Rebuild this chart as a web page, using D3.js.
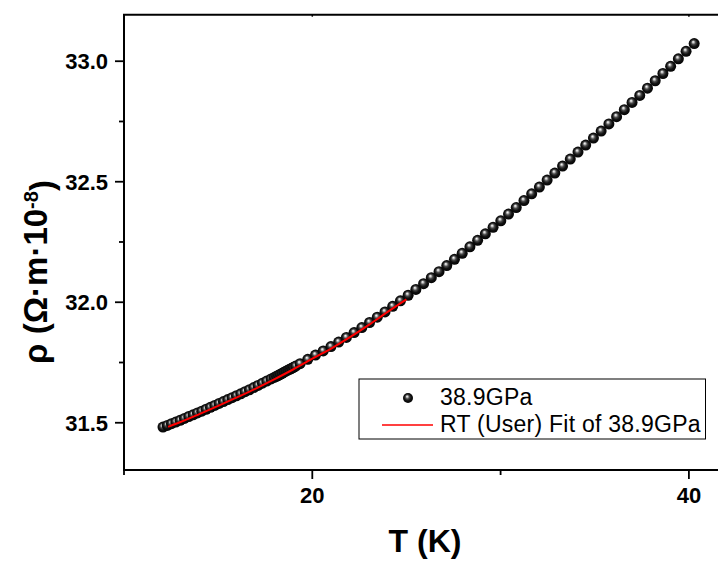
<!DOCTYPE html>
<html>
<head>
<meta charset="utf-8">
<script src="https://cdn.jsdelivr.net/npm/d3@7"></script>
<style>
  body { margin: 0; background: #fff; }
  svg text { font-family: Arial, "Liberation Sans", sans-serif; }
</style>
</head>
<body>
<div id="chart"></div>
<script>
var temps = [12.07, 12.30, 12.52, 12.75, 12.98, 13.21, 13.44, 13.67, 13.90, 14.13,
  14.36, 14.59, 14.82, 15.05, 15.28, 15.51, 15.74, 15.97, 16.20, 16.43,
  16.66, 16.89, 17.12, 17.35, 17.58, 17.81, 17.98, 18.10, 18.20, 18.30,
  18.40, 18.50, 18.60, 18.70, 18.80, 18.90, 19.00, 19.12, 19.35, 19.76,
  20.17, 20.58, 20.99, 21.40, 21.81, 22.22, 22.63, 23.04, 23.45, 23.86,
  24.27, 24.68, 25.09, 25.50, 25.91, 26.32, 26.73, 27.14, 27.55, 27.96,
  28.37, 28.78, 29.19, 29.60, 30.01, 30.42, 30.83, 31.24, 31.65, 32.06,
  32.47, 32.88, 33.29, 33.70, 34.11, 34.52, 34.93, 35.34, 35.75, 36.16,
  36.57, 36.98, 37.39, 37.80, 38.21, 38.62, 39.03, 39.44, 39.85, 40.28];

var rho = [31.482, 31.489, 31.496, 31.503, 31.510, 31.518, 31.526, 31.533, 31.541, 31.548,
  31.556, 31.564, 31.572, 31.580, 31.588, 31.596, 31.604, 31.612, 31.620, 31.629,
  31.637, 31.646, 31.655, 31.664, 31.673, 31.682, 31.688, 31.693, 31.697, 31.701,
  31.705, 31.710, 31.714, 31.718, 31.722, 31.726, 31.730, 31.735, 31.745, 31.763,
  31.781, 31.798, 31.816, 31.835, 31.854, 31.874, 31.895, 31.916, 31.938, 31.960,
  31.983, 32.006, 32.029, 32.053, 32.077, 32.102, 32.127, 32.152, 32.178, 32.203,
  32.230, 32.257, 32.284, 32.311, 32.338, 32.366, 32.393, 32.422, 32.450, 32.478,
  32.507, 32.536, 32.565, 32.594, 32.623, 32.652, 32.681, 32.710, 32.740, 32.770,
  32.799, 32.829, 32.858, 32.888, 32.919, 32.949, 32.979, 33.010, 33.041, 33.073];

// RT (User) fit curve
var fitT = [12.34, 13.0, 14.0, 15.0, 16.0, 17.0, 18.0, 19.0, 20.0, 21.0, 22.0, 23.0, 24.0, 25.0];
var fitRho = [31.483, 31.503, 31.536, 31.570, 31.605, 31.642, 31.681, 31.722, 31.766, 31.808,
  31.855, 31.906, 31.960, 32.012];

var xMajor = [20, 40];
var xMinor = [10, 30];
var yMajor = [31.5, 32.0, 32.5, 33.0];
var yMinor = [31.75, 32.25, 32.75];

var seriesName = "38.9GPa";
var fitName = "RT (User) Fit of 38.9GPa";

var svgWidth = 718, svgHeight = 561;
var margin = {top: 14.7, left: 124, bottom: 91};   // plot runs off the right edge

var svg = d3.select("#chart").append("svg")
  .attr("width", svgWidth)
  .attr("height", svgHeight);

var x = d3.scaleLinear().domain([10, 41.6]).range([margin.left, margin.left + 31.6 * 18.83]);
var y = d3.scaleLinear().domain([31.304, 33.193]).range([svgHeight - margin.bottom, margin.top]);

// sphere look for the markers
var defs = svg.append("defs");
var grad = defs.append("radialGradient")
  .attr("id", "ball")
  .attr("cx", "50%").attr("cy", "50%").attr("r", "55%")
  .attr("fx", "40%").attr("fy", "33%");
grad.append("stop").attr("offset", "0%").attr("stop-color", "#ffffff");
grad.append("stop").attr("offset", "14%").attr("stop-color", "#c8c8c8");
grad.append("stop").attr("offset", "36%").attr("stop-color", "#4a4a4a");
grad.append("stop").attr("offset", "62%").attr("stop-color", "#111");
grad.append("stop").attr("offset", "100%").attr("stop-color", "#000");

var axisY0 = y.range()[0];

// bottom axis
var bottomAxis = svg.append("g").attr("transform", `translate(0,${axisY0})`);
bottomAxis.append("line").attr("x1", margin.left).attr("x2", svgWidth)
  .attr("stroke", "#000").attr("stroke-width", 2);
bottomAxis.selectAll(".maj").data(xMajor).enter().append("line")
  .attr("x1", d => x(d)).attr("x2", d => x(d)).attr("y1", 0).attr("y2", 9)
  .attr("stroke", "#000").attr("stroke-width", 1.8);
bottomAxis.selectAll(".min").data(xMinor).enter().append("line")
  .attr("x1", d => x(d)).attr("x2", d => x(d)).attr("y1", 0).attr("y2", 5)
  .attr("stroke", "#000").attr("stroke-width", 1.8);
bottomAxis.selectAll("text").data(xMajor).enter().append("text")
  .attr("x", d => x(d)).attr("y", 33)
  .attr("text-anchor", "middle")
  .attr("font-size", "22px").attr("font-weight", "bold")
  .text(d => d);

// top axis
var topAxis = svg.append("g").attr("transform", `translate(0,${margin.top})`);
topAxis.append("line").attr("x1", margin.left - 1).attr("x2", svgWidth)
  .attr("stroke", "#000").attr("stroke-width", 2);
topAxis.selectAll(".maj").data(xMajor).enter().append("line")
  .attr("x1", d => x(d)).attr("x2", d => x(d)).attr("y1", 0).attr("y2", 2)
  .attr("stroke", "#000").attr("stroke-width", 1.5);

// left axis
var leftAxis = svg.append("g").attr("transform", `translate(${margin.left},0)`);
leftAxis.append("line").attr("y1", margin.top).attr("y2", axisY0 + 1)
  .attr("stroke", "#000").attr("stroke-width", 2);
leftAxis.selectAll(".maj").data(yMajor).enter().append("line")
  .attr("x1", -9).attr("x2", 0).attr("y1", d => y(d)).attr("y2", d => y(d))
  .attr("stroke", "#000").attr("stroke-width", 1.8);
leftAxis.selectAll(".min").data(yMinor).enter().append("line")
  .attr("x1", -5).attr("x2", 0).attr("y1", d => y(d)).attr("y2", d => y(d))
  .attr("stroke", "#000").attr("stroke-width", 1.8);
leftAxis.selectAll("text").data(yMajor).enter().append("text")
  .attr("x", -16).attr("y", d => y(d)).attr("dy", "0.36em")
  .attr("text-anchor", "end")
  .attr("font-size", "22px").attr("font-weight", "bold")
  .text(d => d.toFixed(1));

// data points
var pts = temps.map((t, i) => ({t: t, r: rho[i]}));
svg.append("g").selectAll("circle").data(pts).enter().append("circle")
  .attr("cx", d => x(d.t))
  .attr("cy", d => y(d.r))
  .attr("r", 5.5)
  .attr("fill", "url(#ball)");

// fit curve
var fitPts = fitT.map((t, i) => ({t: t, r: fitRho[i]}));
svg.append("path").datum(fitPts)
  .attr("d", d3.line().x(d => x(d.t)).y(d => y(d.r)).curve(d3.curveMonotoneX))
  .attr("fill", "none")
  .attr("stroke", "#ff0000")
  .attr("stroke-width", 2);

// legend
var legend = svg.append("g");
legend.append("rect")
  .attr("x", 359).attr("y", 379).attr("width", 346.5).attr("height", 60)
  .attr("fill", "#fff").attr("stroke", "#000").attr("stroke-width", 1);
legend.append("circle").attr("cx", 408).attr("cy", 398).attr("r", 5)
  .attr("fill", "url(#ball)");
legend.append("text").attr("x", 440).attr("y", 405)
  .attr("font-size", "23px").attr("letter-spacing", "0.25px").text(seriesName);
legend.append("line").attr("x1", 382).attr("x2", 433).attr("y1", 425).attr("y2", 425)
  .attr("stroke", "#ff0000").attr("stroke-width", 1.5);
legend.append("text").attr("x", 440).attr("y", 432)
  .attr("font-size", "23px").attr("letter-spacing", "0.25px").text(fitName);

// axis titles
svg.append("text")
  .attr("x", 425).attr("y", 552)
  .attr("text-anchor", "middle")
  .attr("font-size", "32px").attr("font-weight", "bold")
  .text("T (K)");

var ylab = svg.append("text")
  .attr("transform", "translate(47,272) rotate(-90)")
  .attr("text-anchor", "middle")
  .attr("font-size", "33px").attr("font-weight", "bold");
ylab.append("tspan").text("ρ (Ω·m·10");
ylab.append("tspan").attr("dy", "-0.45em").attr("font-size", "20px").text("-8");
ylab.append("tspan").attr("dy", "0.45em").text(")");
</script>
</body>
</html>
